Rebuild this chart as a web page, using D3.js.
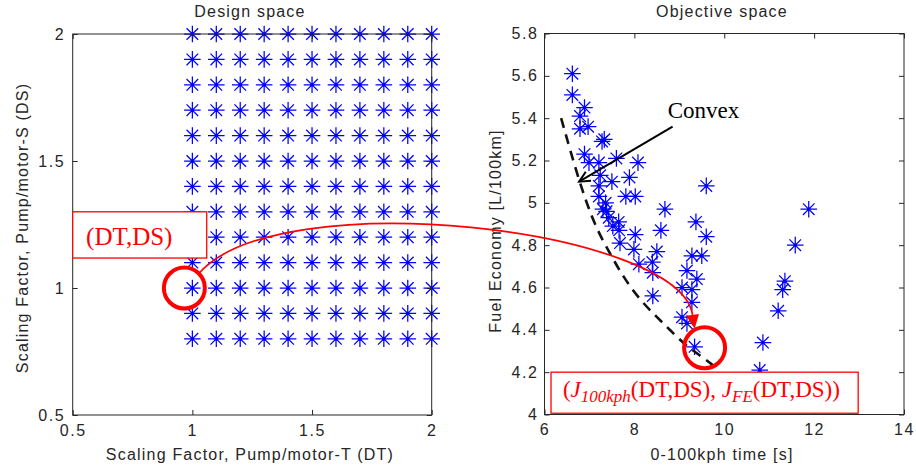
<!DOCTYPE html>
<html>
<head>
<meta charset="utf-8">
<script src="https://cdn.jsdelivr.net/npm/d3@7"></script>
<style>
  html, body { margin: 0; padding: 0; background: #fff; }
  svg { display: block; }
  .ax text, .lbl { font-family: "Liberation Sans", Arial, Helvetica, sans-serif; font-size: 16px; letter-spacing: 1.2px; fill: #262626; }
  .ax .tick text { letter-spacing: 1.6px; }
  .serif { font-family: "Liberation Serif", "Times New Roman", serif; white-space: pre; }
</style>
</head>
<body>
<svg id="chart" width="916" height="472"></svg>
<script>
// ---- Design space: scaling-factor levels of the two pump/motors ----
const dtLevels = [1.0, 1.1, 1.2, 1.3, 1.4, 1.5, 1.6, 1.7, 1.8, 1.9, 2.0];
const dsLevels = [0.8, 0.9, 1.0, 1.1, 1.2, 1.3, 1.4, 1.5, 1.6, 1.7, 1.8, 1.9, 2.0];

// ---- Objective space: simulated 0-100 kph time [s] and fuel economy [L/100km] ----
const accelTime = [
  6.62, 6.62, 6.89, 6.79, 6.79, 6.97, 7.28, 7.33, 6.89, 6.99,
  7.21, 7.60, 8.08, 7.24, 7.50, 7.89, 7.21, 7.21, 7.81, 8.02,
  7.36, 7.30, 7.38, 7.43, 7.52, 7.65, 7.66, 8.02, 8.68, 8.59,
  9.37, 9.60, 9.60, 11.88, 7.68, 7.99, 8.50, 11.58, 8.10, 8.40,
  8.41, 9.28, 9.50, 9.17, 9.39, 9.06, 9.28, 9.28, 8.41, 9.06,
  9.17, 9.34, 11.35, 11.30, 11.20, 10.86, 10.79
];
const fuelEconomy = [
  5.61, 5.51, 5.45, 5.41, 5.35, 5.36, 5.29, 5.30, 5.23, 5.19,
  5.19, 5.21, 5.19, 5.13, 5.10, 5.12, 5.08, 5.03, 5.03, 5.03,
  5.00, 4.97, 4.96, 4.93, 4.89, 4.91, 4.87, 4.85, 4.97, 4.87,
  4.91, 5.08, 4.84, 4.97, 4.81, 4.78, 4.77, 4.80, 4.71, 4.72,
  4.67, 4.75, 4.75, 4.68, 4.64, 4.60, 4.59, 4.53, 4.56, 4.46,
  4.43, 4.32, 4.63, 4.59, 4.49, 4.34, 4.21
];

// ---- Convex trade-off front (dashed) ----
const frontTime = [6.37, 6.77, 7.12, 7.46, 7.75, 8.13, 8.50, 8.79, 9.17, 9.53, 9.88];
const frontFE   = [5.40, 5.10, 4.89, 4.76, 4.65, 4.54, 4.46, 4.40, 4.32, 4.27, 4.21];

// ---- Tick values ----
const designTicks = [0.5, 1, 1.5, 2];
const timeTicks = [6, 8, 10, 12, 14];
const feTicks = [4, 4.2, 4.4, 4.6, 4.8, 5, 5.2, 5.4, 5.6, 5.8];

// ---- Annotations (data units of the panel they sit in) ----
const pickedDesign = { dt: 1.0, ds: 1.0 };
const pickedResult = { t: 9.34, fe: 4.32 };

const svg = d3.select("#chart");
const BLUE = "#0000ff", RED = "#ff0000", INK = "#262626";

// Scales
const xL = d3.scaleLinear().domain([0.5, 2]).range([72.7, 431.7]);
const yL = d3.scaleLinear().domain([0.5, 2]).range([415, 34]);
const xR = d3.scaleLinear().domain([6, 14]).range([544.5, 904]);
const yR = d3.scaleLinear().domain([4, 5.8]).range([414.5, 33.5]);

// MATLAB-style asterisk marker
function star(r) {
  const d = r * 0.7;
  return `M${-r},0L${r},0M0,${-r}L0,${r}M${-d},${-d}L${d},${d}M${-d},${d}L${d},${-d}`;
}
function drawStars(g, pts, sx, sy) {
  const s = g.selectAll(null).data(pts).join("g")
    .attr("transform", d => `translate(${sx(d[0])},${sy(d[1])})`);
  s.append("path").attr("d", star(8.3)).attr("stroke", BLUE).attr("stroke-width", 1.25).attr("fill", "none");
  s.append("circle").attr("r", 1.6).attr("fill", BLUE);
}

// Axis box with inward ticks on all four sides
function drawAxes(xs, ys, xt, yt, yPad) {
  const [x0, x1] = xs.range(), [y1, y0] = ys.range();
  const fmt = d => String(d);
  const g = svg.append("g").attr("class", "ax");
  g.append("g").attr("transform", `translate(0,${y1})`)
    .call(d3.axisBottom(xs).tickValues(xt).tickFormat(fmt).tickSizeInner(-5).tickSizeOuter(0).tickPadding(9.6));
  g.append("g").attr("transform", `translate(0,${y0})`)
    .call(d3.axisTop(xs).tickValues(xt).tickFormat("").tickSizeInner(-5).tickSizeOuter(0));
  g.append("g").attr("transform", `translate(${x0},0)`)
    .call(d3.axisLeft(ys).tickValues(yt).tickFormat(fmt).tickSizeInner(-5).tickSizeOuter(0).tickPadding(yPad));
  g.append("g").attr("transform", `translate(${x1},0)`)
    .call(d3.axisRight(ys).tickValues(yt).tickFormat("").tickSizeInner(-5).tickSizeOuter(0));
  g.selectAll(".domain").remove();
  g.selectAll(".tick line").attr("stroke", INK);
  g.selectAll(".tick text").attr("fill", INK).attr("font-size", 16).attr("font-family", null);
  g.append("rect").attr("x", x0).attr("y", y0).attr("width", x1 - x0).attr("height", y1 - y0)
    .attr("fill", "none").attr("stroke", INK).attr("stroke-width", 1);
  return g;
}

// ---------------- Left panel: design space ----------------
const gridPts = [];
dtLevels.forEach(dt => dsLevels.forEach(ds => gridPts.push([dt, ds])));
drawStars(svg.append("g"), gridPts, xL, yL);
drawAxes(xL, yL, designTicks, designTicks, 7.5);

svg.append("text").attr("class", "lbl").attr("x", 250).attr("y", 17).attr("text-anchor", "middle").text("Design space");
svg.append("text").attr("class", "lbl").attr("x", 250).attr("y", 460).attr("text-anchor", "middle")
  .text("Scaling Factor, Pump/motor-T (DT)");
svg.append("text").attr("class", "lbl").attr("transform", "translate(28,228) rotate(-90)").attr("text-anchor", "middle")
  .text("Scaling Factor, Pump/motor-S (DS)");

// "(DT,DS)" callout box
svg.append("rect")
  .attr("x", xL(0.5)).attr("y", yL(1.30))
  .attr("width", xL(1.06) - xL(0.5)).attr("height", yL(1.118) - yL(1.30))
  .attr("fill", "#fff").attr("stroke", RED).attr("stroke-width", 1.3);
svg.append("text").attr("class", "serif").attr("x", xL(0.556)).attr("y", yL(1.169))
  .attr("font-size", 25).attr("fill", RED).text("(DT,DS)");

// ---------------- Right panel: objective space ----------------
const objPts = accelTime.map((t, i) => [t, fuelEconomy[i]]);
drawStars(svg.append("g"), objPts, xR, yR);

const front = frontTime.map((t, i) => [t, frontFE[i]]);
svg.append("path")
  .attr("d", d3.line().x(d => xR(d[0])).y(d => yR(d[1])).curve(d3.curveBasis)(front))
  .attr("fill", "none").attr("stroke", "#111").attr("stroke-width", 2.6).attr("stroke-dasharray", "10,7");

drawAxes(xR, yR, timeTicks, feTicks, 6);

svg.append("text").attr("class", "lbl").attr("x", 722).attr("y", 17).attr("text-anchor", "middle").text("Objective space");
svg.append("text").attr("class", "lbl").attr("x", 722).attr("y", 460).attr("text-anchor", "middle").text("0-100kph time [s]");
svg.append("text").attr("class", "lbl").attr("transform", "translate(501,231) rotate(-90)").attr("text-anchor", "middle")
  .text("Fuel Economy [L/100km]");

// "Convex" pointer onto the front
const cvFrom = [xR(8.85), yR(5.36)], cvTo = [xR(frontTime[1]), yR(frontFE[1])];
svg.append("line").attr("x1", cvFrom[0]).attr("y1", cvFrom[1]).attr("x2", cvTo[0]).attr("y2", cvTo[1])
  .attr("stroke", "#000").attr("stroke-width", 2);
{
  const a = Math.atan2(cvTo[1] - cvFrom[1], cvTo[0] - cvFrom[0]);
  const L = 12, w = 0.45;
  const p1 = [cvTo[0] - L * Math.cos(a - w), cvTo[1] - L * Math.sin(a - w)];
  const p2 = [cvTo[0] - L * Math.cos(a + w), cvTo[1] - L * Math.sin(a + w)];
  svg.append("path").attr("d", `M${p1}L${cvTo}L${p2}`).attr("fill", "none").attr("stroke", "#000").attr("stroke-width", 2);
}
svg.append("text").attr("class", "serif").attr("x", xR(8.74)).attr("y", yR(5.40))
  .attr("font-size", 23).attr("fill", "#000").text("Convex");

// Objective-pair callout box
svg.append("rect")
  .attr("x", xR(6.145)).attr("y", yR(4.20))
  .attr("width", xR(12.98) - xR(6.145)).attr("height", yR(4.006) - yR(4.20))
  .attr("fill", "#fff").attr("stroke", RED).attr("stroke-width", 1.3);
{
  const t = svg.append("text").attr("class", "serif").attr("x", xR(6.41)).attr("y", yR(4.082))
    .attr("font-size", 23).attr("fill", RED);
  t.append("tspan").text("(");
  t.append("tspan").attr("font-style", "italic").text("J");
  t.append("tspan").attr("font-style", "italic").attr("font-size", 17).attr("dy", 5).text("100kph");
  t.append("tspan").attr("dy", -5).text("(DT,DS), ");
  t.append("tspan").attr("font-style", "italic").text("J");
  t.append("tspan").attr("font-style", "italic").attr("font-size", 17).attr("dy", 5).text("FE");
  t.append("tspan").attr("dy", -5).text("(DT,DS))");
}

// ---------------- Linking arrow: design point -> objective point ----------------
const cL = [xL(pickedDesign.dt) - 8, yL(pickedDesign.ds)];
const cR = [xR(pickedResult.t) + 10, yR(pickedResult.fe) + 1];
const R = 20.5;
svg.append("circle").attr("cx", cL[0]).attr("cy", cL[1]).attr("r", R)
  .attr("fill", "none").attr("stroke", RED).attr("stroke-width", 4);
svg.append("circle").attr("cx", cR[0]).attr("cy", cR[1]).attr("r", R)
  .attr("fill", "none").attr("stroke", RED).attr("stroke-width", 4);

const aS = -Math.PI / 4, aE = -117.6 * Math.PI / 180;
const P0 = [cL[0] + R * Math.cos(aS), cL[1] + R * Math.sin(aS)];
const P3 = [cR[0] + (R + 1) * Math.cos(aE), cR[1] + (R + 1) * Math.sin(aE)];
const P1 = [P0[0] + 80, P0[1] - 92];
const P2 = [P3[0] - 15, P3[1] - 100];
{
  const dir = [P3[0] - P2[0], P3[1] - P2[1]];
  const n = Math.hypot(dir[0], dir[1]);
  const u = [dir[0] / n, dir[1] / n], v = [-u[1], u[0]];
  const head = 14, hw = 6.5;
  const base = [P3[0] - u[0] * head, P3[1] - u[1] * head];
  const p = d3.path();
  p.moveTo(P0[0], P0[1]);
  p.bezierCurveTo(P1[0], P1[1], P2[0], P2[1], base[0], base[1]);
  svg.append("path").attr("d", p.toString()).attr("fill", "none").attr("stroke", RED).attr("stroke-width", 1.7);
  svg.append("path")
    .attr("d", `M${P3}L${base[0] + v[0] * hw},${base[1] + v[1] * hw}L${base[0] - v[0] * hw},${base[1] - v[1] * hw}Z`)
    .attr("fill", RED);
}
</script>
</body>
</html>
